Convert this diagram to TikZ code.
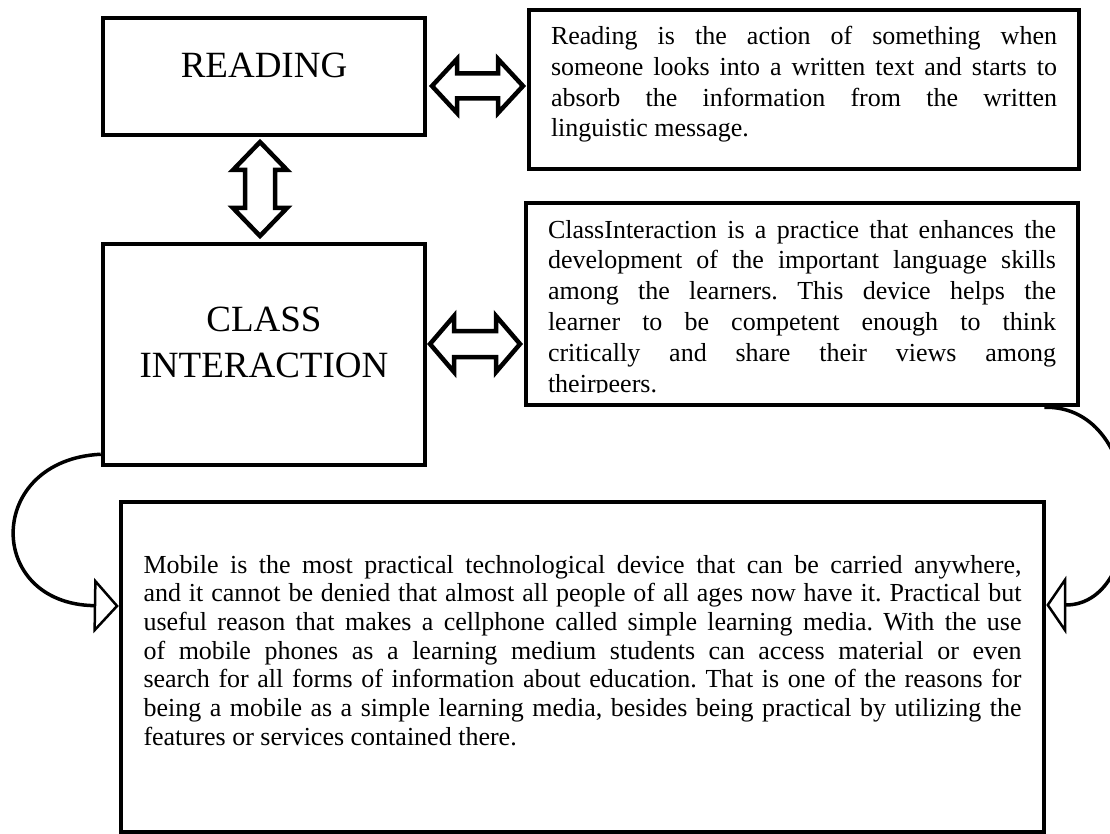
\documentclass[tikz,border=0pt]{standalone}
\usepackage{fontspec}
\setmainfont{Liberation Serif}
\usetikzlibrary{arrows.meta}
\frenchspacing
\newlength{\jw}
\newcommand{\myjl}[1]{\hbox to \jw{#1}}
\newcommand{\mylast}[1]{\hbox to \jw{#1\hfil}}
\tikzset{
  boxstyle/.style={draw, line width=4.5pt, fill=white, inner sep=0pt},
  bigfont/.style={font=\fontsize{37}{46}\selectfont},
  parfont/.style={font=\fontsize{26}{30.7}\selectfont},
  blockarrow/.style={draw, fill=white, line width=4.5pt, line join=miter},
  curvearrow/.style={line width=3.5pt},
}
\begin{document}
\begin{tikzpicture}[x=1pt,y=-1pt]
\useasboundingbox (0,0) rectangle (1110,834);

% READING box
\node[boxstyle, bigfont, anchor=base, text height=60pt, text depth=57pt, minimum width=322pt] (read) at (264,78) {READING};

% definition of reading
\setlength{\jw}{506pt}
\node[boxstyle, parfont, anchor=base, text height=127pt, text depth=32pt, inner xsep=22pt] (def1) at (804,137) {\vbox{%
\myjl{Reading is the action of something when}
\myjl{someone looks into a written text and starts to}
\myjl{absorb the information from the written}
\mylast{linguistic message.}}};

% CLASS INTERACTION box
\node[boxstyle, bigfont, anchor=base, text height=133pt, text depth=88pt, minimum width=322pt] (class) at (264,377) {\vbox{%
\hbox to 322pt{\hfil CLASS\hfil}
\hbox to 322pt{\hfil INTERACTION\hfil}}};

% definition of class interaction
\setlength{\jw}{508pt}
\node[boxstyle, parfont, font=\fontsize{26}{30.8}\selectfont, anchor=base, text height=189pt, text depth=13pt, inner xsep=22pt] (def2) at (802,392) {\vbox{%
\myjl{ClassInteraction is a practice that enhances the}
\myjl{development of the important language skills}
\myjl{among the learners. This device helps the}
\myjl{learner to be competent enough to think}
\myjl{critically and share their views among}
\mylast{theirpeers.}}};
\fill[white] ([xshift=5.5pt,yshift=5pt]def2.south west) rectangle ([xshift=-5.5pt,yshift=14pt]def2.south east);

% mobile box
\setlength{\jw}{878pt}
\node[boxstyle, parfont, font=\fontsize{26}{28.7}\selectfont, anchor=base, text height=243.2pt, text depth=86.8pt, inner xsep=22.5pt] (mob) at (582.5,745.2) {\vbox{%
\myjl{Mobile is the most practical technological device that can be carried anywhere,}
\myjl{and it cannot be denied that almost all people of all ages now have it. Practical but}
\myjl{useful reason that makes a cellphone called simple learning media. With the use}
\myjl{of mobile phones as a learning medium students can access material or even}
\myjl{search for all forms of information about education. That is one of the reasons for}
\myjl{being a mobile as a simple learning media, besides being practical by utilizing the}
\mylast{features or services contained there.}}};

% block double arrows
\draw[blockarrow] (432,86) -- (457,59) -- (457,73.5) -- (498,73.5) -- (498,59) -- (523,86)
  -- (498,113) -- (498,98.5) -- (457,98.5) -- (457,113) -- cycle;
\draw[blockarrow] (430,344) -- (454,316) -- (454,331) -- (496,331) -- (496,316) -- (520,344)
  -- (496,372) -- (496,357) -- (454,357) -- (454,372) -- cycle;
\draw[blockarrow] (260,142) -- (287,170) -- (275,170) -- (275,208) -- (287,208) -- (260,236)
  -- (233,208) -- (245,208) -- (245,170) -- (233,170) -- cycle;

% curved connectors
\draw[curvearrow, -{Triangle[length=25pt, width=55pt, fill=white, line width=2.5pt]}]
  ([yshift=13pt]class.south west) .. controls (-15,460) and (-15,604) .. ([yshift=61pt]mob.west);
\draw[curvearrow, -{Triangle[length=20pt, width=58pt, fill=white, line width=2.5pt]}]
  ([xshift=-36pt]def2.south east) .. controls (1150,405) and (1150,605) .. ([yshift=62pt]mob.east);
\end{tikzpicture}
\end{document}
